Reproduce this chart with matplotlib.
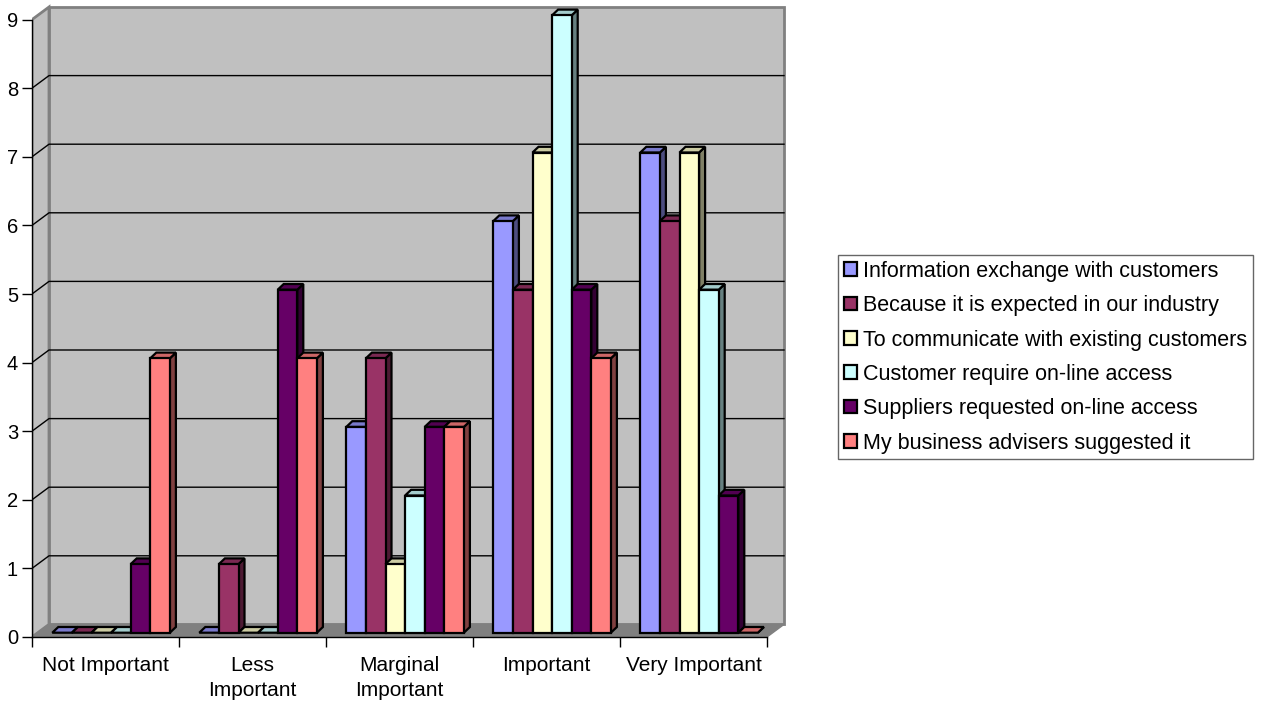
import numpy as np
import matplotlib
matplotlib.use("Agg")
import matplotlib.pyplot as plt
from matplotlib.patches import Patch

plt.rcParams['font.family'] = ['Liberation Sans', 'DejaVu Sans']

categories = ['Not Important', 'Less\nImportant', 'Marginal\nImportant', 'Important', 'Very Important']
series_names = ['Information exchange with customers',
                'Because it is expected in our industry',
                'To communicate with existing customers',
                'Customer require on-line access',
                'Suppliers requested on-line access',
                'My business advisers suggested it']
info_exchange = [0, 0, 3, 6, 7]
expected_industry = [0, 1, 4, 5, 6]
communicate_existing = [0, 0, 1, 7, 7]
customer_online = [0, 0, 2, 9, 5]
suppliers_online = [1, 5, 3, 5, 2]
advisers_suggested = [4, 4, 3, 4, 0]
y_ticks = list(range(10))

series = [info_exchange, expected_industry, communicate_existing,
          customer_online, suppliers_online, advisers_suggested]
colors = ['#9999FF', '#993366', '#FFFFCC', '#CCFFFF', '#660066', '#FF8080']

# pixel geometry of the plot area
px_cat = 147.0       # width of one category
px_unit = 68.6       # height of one value unit
x0_px, y0_px = 32, 637

fig = plt.figure(figsize=(12.7, 7.06), dpi=100)
ax_l, ax_r, ax_t, ax_b = 32, 800, 0, 652
ax = fig.add_axes([ax_l / 1270, 1 - ax_b / 706, (ax_r - ax_l) / 1270, (ax_b - ax_t) / 706])
ax.set_xlim((ax_l - x0_px) / px_cat, (ax_r - x0_px) / px_cat)
ax.set_ylim((y0_px - ax_b) / px_unit, (y0_px - ax_t) / px_unit)
ax.patch.set_visible(False)

ncat = len(categories)
ymax = 9
# wall depth offset
wdx, wdy = 17 / px_cat, 12.6 / px_unit
wall = '#C0C0C0'
edge = '#808080'

# side wall, back wall and floor
ax.fill([0, 0, wdx, wdx], [0, ymax, ymax + wdy, wdy], facecolor=wall, edgecolor=edge, lw=2, zorder=1)
ax.fill([wdx, wdx, ncat + wdx, ncat + wdx], [wdy, ymax + wdy, ymax + wdy, wdy],
        facecolor=wall, edgecolor=edge, lw=2, zorder=1)
for v in y_ticks[1:-1]:
    ax.plot([0, wdx, ncat + wdx], [v, v + wdy, v + wdy], color='black', lw=1, zorder=2)
ax.fill([0, ncat, ncat + wdx, wdx], [0, 0, wdy, wdy], facecolor=edge, edgecolor=edge, lw=1, zorder=2)

# 3D columns
bdx0, bdy0 = 5.6 / px_cat, 4.3 / px_unit     # front face offset from the front plane
bdx, bdy = 6.0 / px_cat, 5.7 / px_unit       # column depth
gap = 0.2
bw = (1 - gap) / len(series)


def shade(c, f):
    rgb = np.array(matplotlib.colors.to_rgb(c))
    return tuple(rgb * f)


for ci in range(ncat):
    for si, vals in enumerate(series):
        h = vals[ci]
        x = ci + gap / 2 + si * bw + bdx0
        y = bdy0
        c = colors[si]
        z = 3 + si * 0.01 + ci
        ax.fill([x + bw, x + bw + bdx, x + bw + bdx, x + bw],
                [y, y + bdy, y + h + bdy, y + h],
                facecolor=shade(c, 0.5), edgecolor='black', lw=1.6, zorder=z)
        ax.fill([x, x + bdx, x + bw + bdx, x + bw],
                [y + h, y + h + bdy, y + h + bdy, y + h],
                facecolor=shade(c, 0.8), edgecolor='black', lw=1.6, zorder=z)
        if h > 0:
            ax.fill([x, x, x + bw, x + bw], [y, y + h, y + h, y],
                    facecolor=c, edgecolor='black', lw=1.6, zorder=z)

# axes
for s in ['top', 'right']:
    ax.spines[s].set_visible(False)
ax.spines['left'].set_position(('data', 0))
ax.spines['left'].set_bounds(0, ymax)
ax.spines['bottom'].set_position(('data', 0))
ax.spines['bottom'].set_bounds(0, ncat)
for s in ['left', 'bottom']:
    ax.spines[s].set_zorder(20)
    ax.spines[s].set_linewidth(1)

ax.set_yticks(y_ticks)
ax.set_yticklabels([str(v) for v in y_ticks], fontsize=14.5)
ax.tick_params(axis='y', length=7, width=1, pad=3, direction='out')
ax.set_xticks(np.arange(ncat + 1))
ax.set_xticklabels([''] * (ncat + 1))
ax.set_xticks(np.arange(ncat) + 0.5, minor=True)
ax.set_xticklabels(categories, minor=True, fontsize=15, linespacing=1.4)
ax.tick_params(axis='x', which='major', length=7, width=1, direction='out')
ax.tick_params(axis='x', which='minor', length=0, pad=13.5)

handles = [Patch(facecolor=c, edgecolor='black', lw=1.6) for c in colors]
fig.legend(handles, series_names, loc='upper left',
           bbox_to_anchor=(838 / 1270, 1 - 255 / 706), borderaxespad=0,
           fontsize=15.5, frameon=True, fancybox=False, edgecolor='#404040',
           handlelength=0.6, handleheight=0.6, handletextpad=0.3,
           labelspacing=0.62, borderpad=0.27)

fig.savefig('out.png', dpi=100)
